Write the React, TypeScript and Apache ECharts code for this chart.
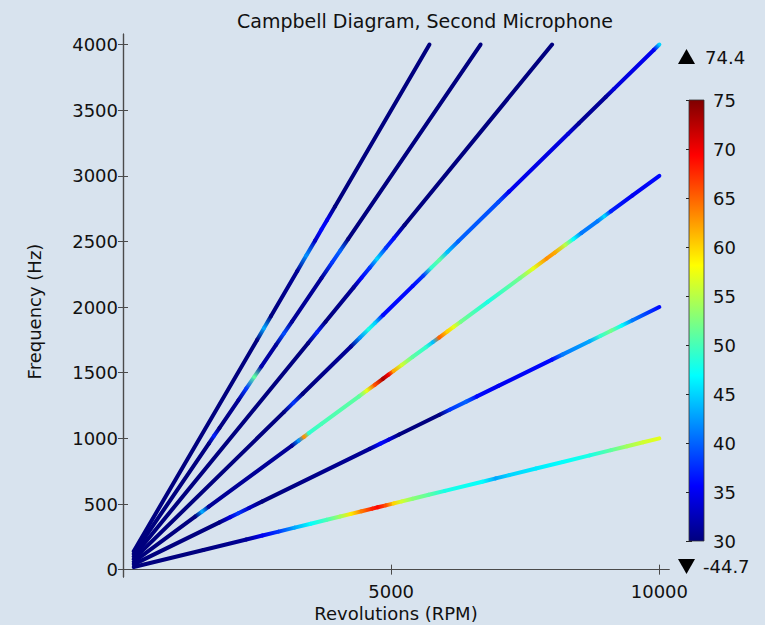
import React, { useEffect, useRef } from 'react';
import * as echarts from 'echarts';

const TITLE = 'Campbell Diagram, Second Microphone';
const X_NAME = 'Revolutions (RPM)';
const Y_NAME = 'Frequency (Hz)';

const X_TICKS = [5000, 10000];
const Y_TICKS = [0, 500, 1000, 1500, 2000, 2500, 3000, 3500, 4000];

// Order 6
const RPM_6 = [200, 1500, 2300, 2600, 2900, 3200, 3500, 3800, 4050, 4250, 4450, 4650, 4750, 4900, 5050, 5200, 5400, 5700, 6000, 6700, 6950, 7200, 7700, 8200, 8700, 9100, 9400, 9700, 10000];
const HZ_6 = [20, 150, 230, 260, 290, 320, 350, 380, 405, 425, 445, 465, 475, 490, 505, 520, 540, 570, 600, 670, 695, 720, 770, 820, 870, 910, 940, 970, 1000];
const LV_6 = [-44.7, 26, 31, 35, 38, 43, 47, 50, 54, 59, 64, 68, 69, 66, 60, 56, 53, 51, 48, 47, 43, 45, 46, 47, 48, 51, 54, 56, 57];

// Order 12
const RPM_12 = [200, 1800, 2000, 2150, 2350, 2600, 4600, 4800, 4950, 5150, 5900, 6100, 6400, 6600, 7000, 8000, 8200, 8700, 8900, 9100, 9300, 9500, 10000];
const HZ_12 = [40, 360, 400, 430, 470, 520, 920, 960, 990, 1030, 1180, 1220, 1280, 1320, 1400, 1600, 1640, 1740, 1780, 1820, 1860, 1900, 2000];
const LV_12 = [-30, 30, 34, 38, 33, 30, 31, 36, 34, 30, 29, 38, 40, 36, 35, 36, 41, 43, 49, 52, 47, 41, 36];

// Order 18
const RPM_18 = [200, 1350, 1480, 1600, 3150, 3280, 3380, 3470, 3700, 4400, 4550, 4700, 4850, 4950, 5050, 5200, 5400, 5650, 5780, 5900, 6050, 6170, 6300, 6800, 7400, 7650, 7900, 8050, 8250, 8400, 8550, 8850, 8980, 9100, 9500, 10000];
const HZ_18 = [60, 405, 444, 480, 945, 984, 1014, 1041, 1110, 1320, 1365, 1410, 1455, 1485, 1515, 1560, 1620, 1695, 1734, 1770, 1815, 1851, 1890, 2040, 2220, 2295, 2370, 2415, 2475, 2520, 2565, 2655, 2694, 2730, 2850, 3000];
const LV_18 = [-20, 30, 43, 31, 31, 42, 63, 49, 50, 51, 57, 66, 73, 70, 62, 56, 51, 49, 44, 65, 60, 57, 52, 48, 52, 57, 63, 62, 55, 47, 41, 41, 45, 37, 35, 36];

// Order 24
const RPM_24 = [200, 3000, 3180, 3350, 4250, 4420, 4580, 4700, 4850, 5400, 5600, 5750, 5900, 6050, 6250, 7000, 7200, 8300, 8500, 9000, 9150, 9900, 10000];
const HZ_24 = [80, 1200, 1272, 1340, 1700, 1768, 1832, 1880, 1940, 2160, 2240, 2300, 2360, 2420, 2500, 2800, 2880, 3320, 3400, 3600, 3660, 3960, 4000];
const LV_24 = [-15, 30, 38, 30, 31, 42, 48, 45, 36, 36, 38, 49, 51, 44, 40, 39, 35, 34, 31, 31, 34, 35, 45];

// Order 30
const RPM_30 = [200, 3450, 3620, 3780, 4300, 4450, 4600, 4740, 4900, 5050, 5250, 8000];
const HZ_30 = [100, 1725, 1810, 1890, 2150, 2225, 2300, 2370, 2450, 2525, 2625, 4000];
const LV_30 = [-10, 30, 37, 30, 31, 36, 38, 45, 38, 36, 30, 29];

// Order 36
const RPM_36 = [200, 1600, 1700, 1800, 2150, 2300, 2450, 2580, 2850, 3000, 3150, 3700, 3900, 4050, 4200, 6667];
const HZ_36 = [120, 960, 1020, 1080, 1290, 1380, 1470, 1548, 1710, 1800, 1890, 2220, 2340, 2430, 2520, 4000];
const LV_36 = [-5, 30, 37, 30, 31, 38, 51, 32, 31, 39, 31, 31, 38, 40, 30, 29];

// Order 42
const RPM_42 = [200, 2500, 2630, 2760, 3250, 3420, 3580, 3700, 3800, 3950, 5714];
const HZ_42 = [140, 1750, 1841, 1932, 2275, 2394, 2506, 2590, 2660, 2765, 4000];
const LV_42 = [0, 30, 43, 30, 31, 42, 33, 36, 35, 30, 29];

const COLOR_MIN = 30;
const COLOR_MAX = 75;
const DATA_MAX = 74.4;
const DATA_MIN = -44.7;

const JET = ['#00007f', '#0000ff', '#007fff', '#00ffff', '#7fff7f', '#ffff00', '#ff7f00', '#ff0000', '#7f0000'];

const LINES = [
  { name: '6', rpm: RPM_6, hz: HZ_6, lv: LV_6 },
  { name: '12', rpm: RPM_12, hz: HZ_12, lv: LV_12 },
  { name: '18', rpm: RPM_18, hz: HZ_18, lv: LV_18 },
  { name: '24', rpm: RPM_24, hz: HZ_24, lv: LV_24 },
  { name: '30', rpm: RPM_30, hz: HZ_30, lv: LV_30 },
  { name: '36', rpm: RPM_36, hz: HZ_36, lv: LV_36 },
  { name: '42', rpm: RPM_42, hz: HZ_42, lv: LV_42 },
];

const BG = '#d8e3ee';
const FONT = 'DejaVu Sans';
const TEXT = '#111111';
const AXIS = '#4a4a4a';

function colorOf(v: number): string {
  const t = Math.min(1, Math.max(0, (v - COLOR_MIN) / (COLOR_MAX - COLOR_MIN)));
  return echarts.color.lerp(t, JET) as string;
}

function segments(l: { rpm: number[]; hz: number[]; lv: number[] }) {
  const out: number[][] = [];
  for (let i = 0; i < l.rpm.length - 1; i++) {
    out.push([l.rpm[i], l.hz[i], l.rpm[i + 1], l.hz[i + 1], l.lv[i], l.lv[i + 1]]);
  }
  return out;
}

const plain = (v: number) => String(v);

export default function App() {
  const ref = useRef<HTMLDivElement>(null);
  useEffect(() => {
    if (!ref.current) return;
    const chart = echarts.init(ref.current, undefined, { renderer: 'svg' });

    const lineSeries = LINES.map((l) => ({
      type: 'custom',
      name: l.name,
      xAxisIndex: 0,
      yAxisIndex: 0,
      encode: { x: [0, 2], y: [1, 3] },
      data: segments(l),
      renderItem: (params: any, api: any) => {
        const p0 = api.coord([api.value(0), api.value(1)]);
        const p1 = api.coord([api.value(2), api.value(3)]);
        const c0 = colorOf(api.value(4));
        const c1 = colorOf(api.value(5));
        return {
          type: 'line',
          shape: { x1: p0[0], y1: p0[1], x2: p1[0], y2: p1[1] },
          style: {
            stroke: new echarts.graphic.LinearGradient(p0[0], p0[1], p1[0], p1[1], [
              { offset: 0, color: c0 },
              { offset: 1, color: c1 },
            ], true),
            lineWidth: 4,
            lineCap: 'round',
          },
        };
      },
    }));

    const colorbarSeries = {
      type: 'custom',
      xAxisIndex: 2,
      yAxisIndex: 2,
      data: [[0, COLOR_MIN, 1, COLOR_MAX]],
      renderItem: (params: any, api: any) => {
        const a = api.coord([api.value(0), api.value(3)]);
        const b = api.coord([api.value(2), api.value(1)]);
        return {
          type: 'rect',
          shape: { x: a[0], y: a[1], width: b[0] - a[0], height: b[1] - a[1] },
          style: {
            fill: new echarts.graphic.LinearGradient(0, 1, 0, 0, JET.map((c, i) => ({ offset: i / (JET.length - 1), color: c }))),
            stroke: '#333',
            lineWidth: 0.8,
          },
        };
      },
    };

    const tickLabel = { color: TEXT, fontSize: 18, fontFamily: FONT, formatter: plain };

    chart.setOption({
      animation: false,
      backgroundColor: BG,
      title: {
        text: TITLE,
        left: 232,
        top: 6,
        textStyle: { color: TEXT, fontSize: 19, fontWeight: 'normal', fontFamily: FONT },
      },
      grid: [
        { left: 123, top: 34, width: 546, height: 543, containLabel: false, outerBoundsMode: 'none' },
        { left: 689, top: 100, width: 15, height: 441, containLabel: false, outerBoundsMode: 'none' },
      ],
      xAxis: [
        {
          type: 'value', gridIndex: 0, min: 0, max: 10180, interval: 5000, position: 'bottom',
          axisLine: { lineStyle: { color: AXIS, width: 1.2 } },
          axisTick: { inside: true, length: 5, lineStyle: { color: AXIS }, customValues: X_TICKS },
          axisLabel: { ...tickLabel, margin: 5, customValues: X_TICKS },
          splitLine: { show: false },
          name: X_NAME, nameLocation: 'middle', nameGap: 25,
          nameTextStyle: { color: TEXT, fontSize: 18, fontFamily: FONT },
        },
        {
          type: 'value', gridIndex: 0, min: 0, max: 10180, interval: 5000, position: 'top',
          axisLine: { lineStyle: { color: AXIS, width: 1.2 } },
          axisTick: { inside: true, length: 5, lineStyle: { color: AXIS }, customValues: X_TICKS },
          axisLabel: { show: false },
          splitLine: { show: false },
        },
        { type: 'value', gridIndex: 1, min: 0, max: 1, show: false },
      ],
      yAxis: [
        {
          type: 'value', gridIndex: 0, min: -56, max: 4080, interval: 500, position: 'left',
          axisLine: { show: true, lineStyle: { color: AXIS, width: 1.2 } },
          axisTick: { show: true, inside: true, length: 5, lineStyle: { color: AXIS }, customValues: Y_TICKS },
          axisLabel: { ...tickLabel, margin: 5, customValues: Y_TICKS },
          splitLine: { show: false },
          name: Y_NAME, nameLocation: 'middle', nameGap: 80,
          nameTextStyle: { color: TEXT, fontSize: 18, fontFamily: FONT, padding: [0, 12, 0, 0] },
        },
        {
          type: 'value', gridIndex: 0, min: -56, max: 4080, interval: 500, position: 'right',
          axisLine: { show: true, lineStyle: { color: AXIS, width: 1.2 } },
          axisTick: { show: true, inside: true, length: 5, lineStyle: { color: AXIS }, customValues: Y_TICKS },
          axisLabel: { show: false },
          splitLine: { show: false },
        },
        {
          type: 'value', gridIndex: 1, min: COLOR_MIN, max: COLOR_MAX, interval: 5, position: 'right',
          axisLine: { show: false },
          axisTick: { show: true, inside: true, length: 3, lineStyle: { color: '#222' } },
          axisLabel: { ...tickLabel, margin: 9 },
          splitLine: { show: false },
        },
        {
          type: 'value', gridIndex: 1, min: COLOR_MIN, max: COLOR_MAX, interval: 5, position: 'left',
          axisLine: { show: false },
          axisTick: { show: true, inside: true, length: 3, lineStyle: { color: '#222' } },
          axisLabel: { show: false },
          splitLine: { show: false },
        },
      ],
      graphic: [
        { type: 'polygon', shape: { points: [[678, 64], [695, 64], [686.5, 49]] }, style: { fill: '#000' } },
        { type: 'text', x: 705, y: 57, style: { text: DATA_MAX.toFixed(1), fill: TEXT, fontSize: 18, fontFamily: FONT, verticalAlign: 'middle' } },
        { type: 'polygon', shape: { points: [[678, 559], [695, 559], [686.5, 574]] }, style: { fill: '#000' } },
        { type: 'text', x: 703, y: 566, style: { text: DATA_MIN.toFixed(1), fill: TEXT, fontSize: 18, fontFamily: FONT, verticalAlign: 'middle' } },
      ],
      series: [...lineSeries, colorbarSeries],
    });

    return () => chart.dispose();
  }, []);

  return (
    <div
      ref={ref}
      style={{ position: 'absolute', left: 0, top: 0, width: 765, height: 625 }}
    />
  );
}
